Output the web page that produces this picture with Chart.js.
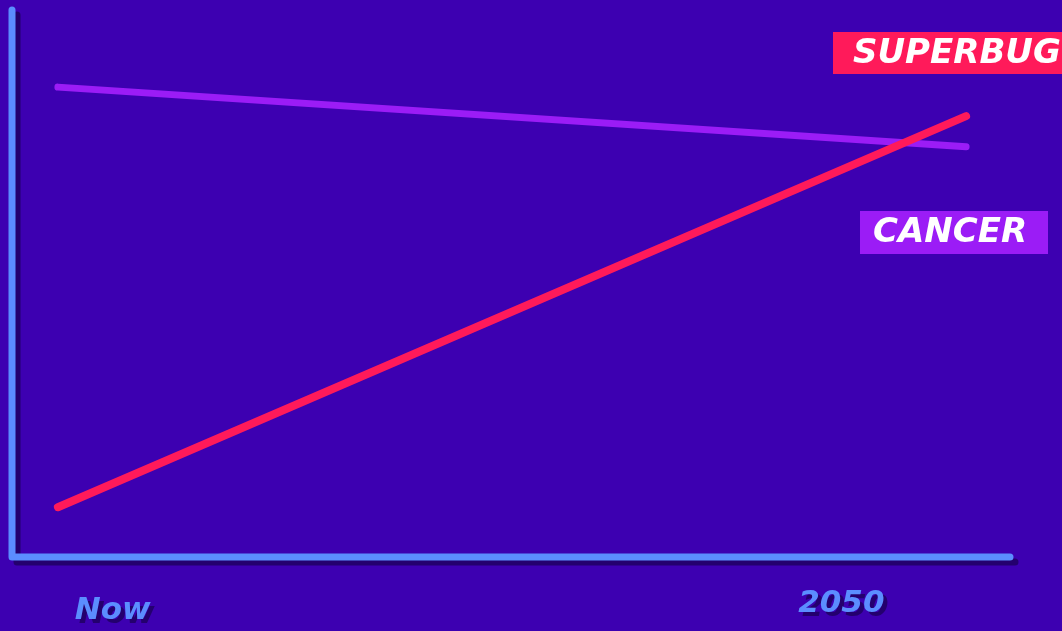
<!DOCTYPE html>
<html>
<head>
<meta charset="utf-8">
<script src="https://cdn.jsdelivr.net/npm/chart.js@4"></script>
<style>
  html, body { margin: 0; padding: 0; background: #3d00b1; }
  #grafica { display: block; }
</style>
</head>
<body>
<canvas id="grafica" width="1062" height="631"></canvas>
<script>
// datos
const serieNombres = ['SUPERBUG', 'CANCER'];
const tiempoX = [4.6, 95.6];
const superbugY = [9.1, 80.6];
const cancerY = [85.9, 75.0];
const ticksX = [10.1, 83.1];
const ticksTexto = ['Now', '2050'];

const colorFondo = '#3d00b1';
const colorEje = '#5b8dff';
const colorSombra = '#24006e';
const colorRojo = '#ff1a5a';
const colorMorado = '#9b1cf6';

/* EJES Y ETIQUETAS */
const ejesPlugin = {
  id: 'ejes',
  beforeDraw(chart) {
    const ctx = chart.ctx;
    ctx.save();
    ctx.fillStyle = colorFondo;
    ctx.fillRect(0, 0, chart.width, chart.height);
    ctx.restore();
  },
  beforeDatasetsDraw(chart) {
    const ctx = chart.ctx;
    const a = chart.chartArea;
    const trazar = (color, dx, dy) => {
      ctx.beginPath();
      ctx.moveTo(a.left + dx, a.top + dy);
      ctx.lineTo(a.left + dx, a.bottom + dy);
      ctx.lineTo(a.right + dx, a.bottom + dy);
      ctx.strokeStyle = color;
      ctx.lineWidth = 7;
      ctx.lineCap = 'round';
      ctx.lineJoin = 'round';
      ctx.stroke();
    };
    ctx.save();
    trazar(colorSombra, 5, 5);
    trazar(colorEje, 0, 0);

    // etiquetas del eje x
    const escalaX = chart.scales.x;
    ctx.font = 'oblique bold 31px "DejaVu Sans", sans-serif';
    ctx.textAlign = 'center';
    ctx.textBaseline = 'middle';
    const alturas = [611, 604];
    ticksX.forEach((v, i) => {
      const px = escalaX.getPixelForValue(v);
      ctx.fillStyle = colorSombra;
      ctx.fillText(ticksTexto[i], px + 4, alturas[i] + 4);
      ctx.fillStyle = colorEje;
      ctx.fillText(ticksTexto[i], px, alturas[i]);
    });
    ctx.restore();
  },
  afterDatasetsDraw(chart) {
    const ctx = chart.ctx;
    const cajas = [
      { x: 833, y: 32, w: 240, h: 42, tx: 853, color: colorRojo },
      { x: 860, y: 211, w: 188, h: 43, tx: 873, color: colorMorado }
    ];
    ctx.save();
    ctx.font = 'oblique bold 34px "DejaVu Sans", sans-serif';
    ctx.textBaseline = 'middle';
    ctx.textAlign = 'left';
    chart.data.datasets.forEach((ds, i) => {
      const c = cajas[i];
      ctx.fillStyle = c.color;
      ctx.fillRect(c.x, c.y, c.w, c.h);
      ctx.fillStyle = '#ffffff';
      ctx.fillText(ds.label, c.tx, c.y + c.h / 2 + 1);
    });
    ctx.restore();
  }
};

const grafica = document.getElementById('grafica').getContext('2d');

new Chart(grafica, {
  type: 'line',
  data: {
    datasets: [
      {
        label: serieNombres[0],
        data: tiempoX.map((x, i) => ({ x: x, y: superbugY[i] })),
        borderColor: colorRojo,
        borderWidth: 8,
        borderCapStyle: 'round',
        pointRadius: 0,
        tension: 0
      },
      {
        label: serieNombres[1],
        data: tiempoX.map((x, i) => ({ x: x, y: cancerY[i] })),
        borderColor: colorMorado,
        borderWidth: 7,
        borderCapStyle: 'round',
        pointRadius: 0,
        tension: 0
      }
    ]
  },
  options: {
    responsive: false,
    animation: false,
    layout: { padding: { left: 12, top: 10, right: 52, bottom: 74 } },
    scales: {
      x: { type: 'linear', min: 0, max: 100, display: false },
      y: { type: 'linear', min: 0, max: 100, display: false }
    },
    plugins: {
      legend: { display: false },
      tooltip: { enabled: false }
    }
  },
  plugins: [ejesPlugin]
});
</script>
</body>
</html>
